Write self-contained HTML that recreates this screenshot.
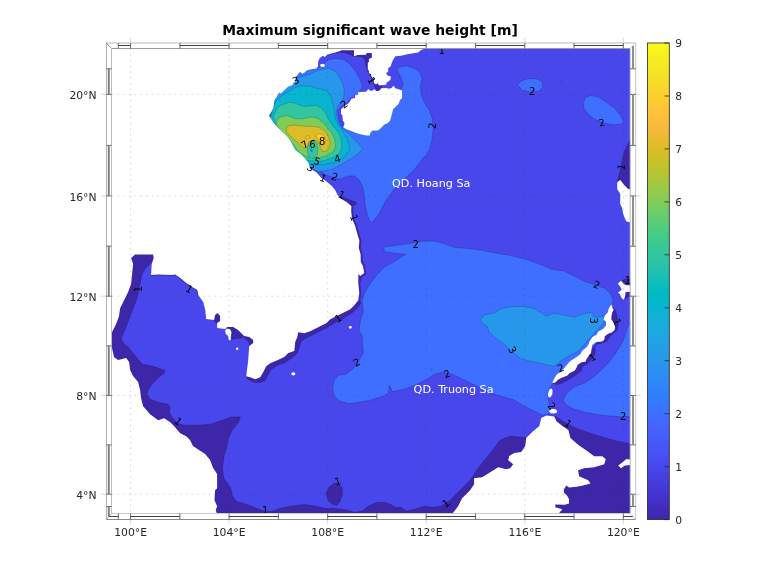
<!DOCTYPE html><html><head><meta charset="utf-8"><title>Maximum significant wave height</title>
<style>html,body{margin:0;padding:0;background:#fff}body{width:778px;height:583px;overflow:hidden}svg{display:block}text{font-family:"DejaVu Sans","Liberation Sans",sans-serif}</style></head><body>
<svg width="778" height="583" viewBox="0 0 778 583">
<defs><clipPath id="fr"><rect x="111.5" y="48.4" width="518.7" height="465.1"/></clipPath>
<linearGradient id="cb" x1="0" y1="1" x2="0" y2="0"><stop offset="0.0000" stop-color="rgb(62,38,168)"/><stop offset="0.0159" stop-color="rgb(64,42,180)"/><stop offset="0.0317" stop-color="rgb(66,46,192)"/><stop offset="0.0476" stop-color="rgb(67,50,203)"/><stop offset="0.0635" stop-color="rgb(69,55,213)"/><stop offset="0.0794" stop-color="rgb(70,60,222)"/><stop offset="0.0952" stop-color="rgb(71,65,229)"/><stop offset="0.1111" stop-color="rgb(71,71,235)"/><stop offset="0.1270" stop-color="rgb(72,77,240)"/><stop offset="0.1429" stop-color="rgb(72,82,244)"/><stop offset="0.1587" stop-color="rgb(71,88,248)"/><stop offset="0.1746" stop-color="rgb(70,94,251)"/><stop offset="0.1905" stop-color="rgb(69,99,253)"/><stop offset="0.2063" stop-color="rgb(66,105,254)"/><stop offset="0.2222" stop-color="rgb(62,111,255)"/><stop offset="0.2381" stop-color="rgb(56,117,254)"/><stop offset="0.2540" stop-color="rgb(50,124,252)"/><stop offset="0.2698" stop-color="rgb(47,129,250)"/><stop offset="0.2857" stop-color="rgb(46,135,247)"/><stop offset="0.3016" stop-color="rgb(45,140,243)"/><stop offset="0.3175" stop-color="rgb(43,145,239)"/><stop offset="0.3333" stop-color="rgb(39,151,235)"/><stop offset="0.3492" stop-color="rgb(37,155,232)"/><stop offset="0.3651" stop-color="rgb(35,160,229)"/><stop offset="0.3810" stop-color="rgb(32,165,227)"/><stop offset="0.3968" stop-color="rgb(28,169,223)"/><stop offset="0.4127" stop-color="rgb(24,173,219)"/><stop offset="0.4286" stop-color="rgb(18,177,214)"/><stop offset="0.4444" stop-color="rgb(8,181,208)"/><stop offset="0.4603" stop-color="rgb(1,184,202)"/><stop offset="0.4762" stop-color="rgb(2,186,195)"/><stop offset="0.4921" stop-color="rgb(11,189,189)"/><stop offset="0.5079" stop-color="rgb(25,191,182)"/><stop offset="0.5238" stop-color="rgb(36,193,174)"/><stop offset="0.5397" stop-color="rgb(44,196,167)"/><stop offset="0.5556" stop-color="rgb(49,198,159)"/><stop offset="0.5714" stop-color="rgb(55,200,151)"/><stop offset="0.5873" stop-color="rgb(63,202,142)"/><stop offset="0.6032" stop-color="rgb(74,203,132)"/><stop offset="0.6190" stop-color="rgb(87,204,122)"/><stop offset="0.6349" stop-color="rgb(100,205,111)"/><stop offset="0.6508" stop-color="rgb(114,205,100)"/><stop offset="0.6667" stop-color="rgb(129,204,89)"/><stop offset="0.6825" stop-color="rgb(143,203,78)"/><stop offset="0.6984" stop-color="rgb(157,201,67)"/><stop offset="0.7143" stop-color="rgb(171,199,57)"/><stop offset="0.7302" stop-color="rgb(185,196,49)"/><stop offset="0.7460" stop-color="rgb(197,194,42)"/><stop offset="0.7619" stop-color="rgb(209,191,39)"/><stop offset="0.7778" stop-color="rgb(220,189,41)"/><stop offset="0.7937" stop-color="rgb(230,187,45)"/><stop offset="0.8095" stop-color="rgb(240,186,54)"/><stop offset="0.8254" stop-color="rgb(248,186,61)"/><stop offset="0.8413" stop-color="rgb(254,190,60)"/><stop offset="0.8571" stop-color="rgb(254,195,56)"/><stop offset="0.8730" stop-color="rgb(254,201,52)"/><stop offset="0.8889" stop-color="rgb(252,207,48)"/><stop offset="0.9048" stop-color="rgb(250,214,45)"/><stop offset="0.9206" stop-color="rgb(247,220,42)"/><stop offset="0.9365" stop-color="rgb(245,227,39)"/><stop offset="0.9524" stop-color="rgb(245,233,36)"/><stop offset="0.9683" stop-color="rgb(246,239,32)"/><stop offset="0.9841" stop-color="rgb(247,245,27)"/><stop offset="1.0000" stop-color="rgb(249,251,21)"/></linearGradient></defs>
<rect width="778" height="583" fill="#fff"/>
<g clip-path="url(#fr)">
<rect x="111.5" y="48.4" width="518.7" height="465.1" fill="rgb(71,71,235)"/>
<polygon fill="rgb(62,38,168)" stroke="#000" stroke-opacity="0.35" stroke-width="0.5" stroke-linejoin="round" points="622.2,280.3 626.6,278.8 632.0,278.8 632.0,294.5 627.8,297.0 625.0,298.9 624.0,292.0 623.0,284.0"/>
<polygon fill="rgb(62,38,168)" stroke="#000" stroke-opacity="0.35" stroke-width="0.5" stroke-linejoin="round" points="330.0,54.5 335.2,52.7 341.1,52.3 343.9,52.7 350.1,54.4 353.6,56.5 357.8,56.2 361.3,56.8 364.0,58.2 365.4,61.4 365.8,64.8 366.8,69.0 368.5,73.2 370.3,75.9 371.7,78.7 373.6,83.4 375.3,86.9 376.4,90.7 379.2,91.2 381.5,88.5 382.0,85.0 378.0,82.0 372.0,70.0 376.0,52.0 352.0,47.0 330.0,47.0"/>
<polygon fill="rgb(62,38,168)" stroke="#000" stroke-opacity="0.35" stroke-width="0.5" stroke-linejoin="round" points="338.5,196.5 340.5,196.2 346.0,198.5 355.5,202.0 356.5,204.0 351.5,206.8 347.0,203.0 342.0,200.0"/>
<polygon fill="rgb(62,38,168)" stroke="#000" stroke-opacity="0.35" stroke-width="0.5" stroke-linejoin="round" points="361.2,302.5 357.2,308.5 351.2,313.5 343.2,318.5 335.2,322.6 327.2,327.6 319.1,331.6 311.1,335.6 305.2,338.4 301.2,341.4 299.2,347.4 297.2,353.4 291.2,358.4 285.2,362.5 277.1,365.5 271.1,369.5 268.1,374.5 265.1,380.5 260.1,382.5 254.1,382.5 250.1,380.5 247.1,378.5 246.0,374.0 255.0,372.0 262.0,366.0 275.0,358.0 290.0,348.0 293.0,335.0 305.0,328.0 330.0,316.0 350.0,305.0 356.0,298.0"/>
<polygon fill="rgb(62,38,168)" stroke="#000" stroke-opacity="0.35" stroke-width="0.5" stroke-linejoin="round" points="226.3,326.8 233.5,326.8 238.5,331.5 243.6,336.4 241.0,338.2 236.0,338.6 231.5,339.4 232.0,333.0 230.5,329.0"/>
<polygon fill="rgb(62,38,168)" stroke="#000" stroke-opacity="0.35" stroke-width="0.5" stroke-linejoin="round" points="214.5,316.0 217.5,312.5 220.6,316.0 220.5,321.5 217.0,324.0 213.8,320.5"/>
<polygon fill="rgb(62,38,168)" stroke="#000" stroke-opacity="0.35" stroke-width="0.5" stroke-linejoin="round" points="244.0,335.0 246.4,335.6 250.0,336.6 254.0,339.7 254.0,341.8 249.5,346.8 248.8,341.5 246.0,339.8 244.0,338.0"/>
<polygon fill="rgb(62,38,168)" stroke="#000" stroke-opacity="0.35" stroke-width="0.5" stroke-linejoin="round" points="155.0,252.0 153.0,262.0 150.1,264.1 146.1,267.1 142.1,274.1 140.1,284.1 137.1,298.2 133.1,308.2 130.1,316.2 127.1,324.2 123.1,334.2 121.1,338.3 124.1,344.3 127.1,346.0 132.1,352.0 137.1,358.0 142.1,364.1 152.1,366.1 164.2,370.1 165.2,372.1 158.2,378.1 152.1,384.1 148.1,390.1 147.1,394.1 150.1,399.2 158.2,402.2 168.2,404.2 170.2,408.2 169.2,412.2 172.2,417.2 177.2,423.2 184.2,425.2 196.3,425.2 210.3,424.2 222.3,420.2 230.3,417.2 240.4,416.8 238.4,422.2 232.3,430.2 228.3,438.3 227.1,446.1 224.1,456.1 222.5,468.1 223.7,478.2 228.1,484.2 231.1,489.2 232.5,496.2 236.1,501.2 246.2,504.2 256.2,508.2 264.2,511.2 272.2,511.2 280.3,508.2 290.3,506.2 304.3,504.6 316.4,506.2 326.4,508.5 332.0,508.2 346.1,509.8 354.1,512.2 362.1,511.2 368.1,506.2 376.1,502.6 384.2,502.2 390.2,504.2 396.2,507.6 401.2,507.2 406.2,511.2 414.2,509.2 424.3,506.2 432.3,507.2 440.3,506.4 450.1,500.3 460.1,490.2 470.1,480.2 478.1,468.2 486.1,458.2 494.2,448.1 500.2,440.1 510.2,436.1 520.2,437.1 526.2,438.1 535.0,445.0 520.0,470.0 480.0,490.0 458.0,518.0 212.0,518.0 205.0,470.0 170.0,440.0 135.0,410.0 115.0,380.0 105.0,350.0 105.0,330.0 125.0,280.0 128.0,250.0"/>
<polygon fill="rgb(62,38,168)" stroke="#000" stroke-opacity="0.35" stroke-width="0.5" stroke-linejoin="round" points="326.0,493.2 329.0,487.2 334.0,483.2 339.0,483.8 342.1,488.2 342.5,494.2 340.1,501.2 337.0,505.2 332.0,504.2 328.0,500.2"/>
<polygon fill="rgb(62,38,168)" stroke="#000" stroke-opacity="0.35" stroke-width="0.5" stroke-linejoin="round" points="548.0,417.0 555.1,416.1 564.1,422.1 576.1,428.2 590.2,433.2 606.2,438.2 618.2,441.2 632.0,444.0 632.0,518.0 550.0,518.0"/>
<polygon fill="rgb(62,38,168)" stroke="#000" stroke-opacity="0.35" stroke-width="0.5" stroke-linejoin="round" points="612.0,306.0 615.4,310.1 618.4,322.1 617.4,330.1 610.4,336.1 607.0,341.0 603.6,342.8 597.0,344.3 594.7,346.6 595.5,350.7 594.7,354.8 590.6,360.8 587.1,364.0 582.4,366.5 581.6,370.6 577.5,374.0 569.8,379.0 562.4,383.1 556.7,384.7 553.0,383.0 560.0,374.0 580.0,356.0 600.0,334.0 610.0,315.0"/>
<polygon fill="rgb(62,38,168)" stroke="#000" stroke-opacity="0.35" stroke-width="0.5" stroke-linejoin="round" points="632.0,138.0 630.5,139.0 627.0,146.0 624.4,151.3 622.6,158.0 621.2,166.0 619.2,174.1 617.0,182.0 620.0,190.0 632.0,190.0"/>
<polygon fill="rgb(62,111,255)" stroke="#000" stroke-opacity="0.35" stroke-width="0.5" stroke-linejoin="round" points="315.0,66.0 317.4,67.7 320.1,67.1 324.8,63.0 328.1,59.7 336.1,58.4 344.2,59.7 349.5,63.7 354.9,70.4 358.9,77.1 361.6,83.8 362.2,87.8 358.9,91.8 354.9,96.5 351.2,100.0 348.1,101.8 340.9,106.3 338.3,110.4 338.0,115.6 339.3,120.7 341.4,125.4 343.4,127.4 350.0,120.0 380.0,110.0 398.0,95.0 401.2,90.1 403.2,83.1 400.2,76.1 397.1,70.1 399.2,67.1 406.2,65.7 414.2,68.1 420.2,73.1 422.2,79.1 420.2,86.1 421.2,94.1 424.2,102.2 429.2,110.2 432.2,118.2 433.2,128.2 432.2,138.3 430.2,147.0 426.5,155.0 422.9,158.0 414.9,168.7 404.2,179.4 393.5,190.1 385.5,200.8 378.8,214.2 372.1,222.6 369.4,220.2 366.9,213.5 365.2,205.2 364.4,195.1 362.7,186.8 359.3,180.1 354.3,175.9 347.6,175.9 340.1,179.3 334.3,177.6 325.0,175.0 300.0,150.0 280.0,120.0 290.0,90.0 296.0,72.0 312.0,64.0 316.0,63.5"/>
<polygon fill="rgb(62,111,255)" stroke="#000" stroke-opacity="0.35" stroke-width="0.5" stroke-linejoin="round" points="384.1,246.8 393.5,245.7 406.8,244.1 420.2,241.4 433.6,240.9 444.3,243.6 455.0,247.6 468.3,248.4 481.7,250.3 495.1,252.9 511.1,255.6 527.2,259.6 537.9,263.6 547.8,267.6 550.1,269.0 564.1,271.0 576.1,277.0 586.2,282.0 596.2,285.1 604.2,288.1 610.2,293.1 613.2,300.1 612.2,305.1 611.5,312.0 611.0,322.0 607.0,332.0 600.0,339.0 589.0,352.0 577.0,364.0 562.0,377.0 553.0,383.0 549.0,390.0 548.0,398.0 550.3,409.0 548.3,414.0 542.3,415.0 534.3,411.0 522.2,405.0 514.2,400.0 503.8,397.0 490.4,392.9 479.7,387.6 469.0,382.2 458.3,376.9 450.3,373.4 442.3,372.4 434.3,374.2 426.3,379.6 415.6,384.9 404.9,388.9 392.6,391.6 389.4,384.9 388.3,393.7 380.8,397.0 370.1,400.2 359.4,402.3 348.7,403.6 339.4,401.0 334.0,395.6 332.7,388.9 334.0,380.9 338.0,375.6 346.0,374.2 352.7,368.9 358.1,362.2 363.4,352.8 362.6,343.5 362.1,335.5 358.9,330.1 360.7,319.4 363.4,311.4 362.1,300.7 364.5,293.0 370.4,283.2 378.4,273.1 385.8,266.1 393.5,262.3 405.5,254.3 393.5,252.9 384.1,251.6"/>
<polygon fill="rgb(62,111,255)" stroke="#000" stroke-opacity="0.35" stroke-width="0.5" stroke-linejoin="round" points="517.7,85.1 521.1,81.1 528.1,78.7 537.1,78.7 542.2,82.1 542.8,87.1 539.2,91.1 530.1,92.1 522.1,90.1"/>
<polygon fill="rgb(62,111,255)" stroke="#000" stroke-opacity="0.35" stroke-width="0.5" stroke-linejoin="round" points="583.3,103.2 585.3,98.1 590.3,95.5 598.3,97.1 606.3,102.2 614.4,108.2 620.4,115.2 623.4,121.2 621.4,124.2 612.3,124.8 604.3,123.2 594.3,119.2 588.3,114.2 584.3,109.2"/>
<polygon fill="rgb(62,111,255)" stroke="#000" stroke-opacity="0.35" stroke-width="0.5" stroke-linejoin="round" points="632.0,416.5 618.2,416.5 606.2,415.7 594.2,414.1 584.1,412.1 574.1,409.1 566.1,405.1 563.1,400.5 566.1,394.0 574.3,386.8 584.3,383.2 592.3,378.0 600.3,371.0 608.4,363.0 614.4,355.0 621.0,345.0 624.5,337.0 627.0,329.0 630.3,322.0 632.0,321.0"/>
<polygon fill="rgb(62,111,255)" stroke="#000" stroke-opacity="0.35" stroke-width="0.5" stroke-linejoin="round" points="557.2,81.5 558.5,80.6 560.8,81.3 561.2,82.6 559.0,82.8"/>
<polygon fill="rgb(62,111,255)" stroke="#000" stroke-opacity="0.35" stroke-width="0.5" stroke-linejoin="round" points="430.0,369.7 431.1,368.8 432.3,369.7 431.1,370.7"/>
<polygon fill="rgb(39,151,235)" stroke="#000" stroke-opacity="0.35" stroke-width="0.5" stroke-linejoin="round" points="294.7,79.1 301.4,76.4 309.4,74.4 316.1,71.1 322.8,69.1 329.5,68.4 334.8,71.1 338.8,75.7 342.2,82.4 344.2,89.1 344.0,95.0 342.9,99.1 339.8,103.2 337.3,107.3 336.2,112.5 337.3,118.7 339.8,124.8 342.9,129.0 348.1,133.1 353.2,138.2 358.4,143.4 362.5,148.5 358.5,153.4 350.2,159.2 340.1,165.1 330.1,170.1 318.4,171.7 310.0,167.6 300.0,160.0 285.0,140.0 270.0,120.0 275.0,95.0"/>
<polygon fill="rgb(39,151,235)" stroke="#000" stroke-opacity="0.35" stroke-width="0.5" stroke-linejoin="round" points="480.0,320.1 484.0,315.1 494.1,313.1 500.1,309.0 510.1,306.6 522.1,306.4 532.2,308.0 540.2,312.1 546.2,316.1 554.2,313.1 564.2,315.1 574.3,317.1 582.3,314.1 590.3,312.6 592.4,312.4 593.7,316.6 597.4,317.4 603.1,315.7 604.5,320.0 600.7,327.3 596.6,330.5 592.4,335.5 588.0,340.0 583.5,345.5 578.5,351.0 568.3,356.2 560.2,361.2 554.2,366.2 548.2,365.2 540.2,363.2 530.2,361.2 520.1,358.2 513.1,352.2 506.1,346.1 500.1,341.1 494.1,337.1 489.0,332.1 487.0,326.1 483.0,324.1"/>
<polygon fill="rgb(8,181,208)" stroke="#000" stroke-opacity="0.35" stroke-width="0.5" stroke-linejoin="round" points="274.5,104.0 275.2,102.7 278.4,98.6 283.4,94.4 289.1,91.2 294.9,87.5 300.7,85.8 306.4,85.8 311.3,86.2 316.3,88.3 321.4,89.1 326.8,91.1 330.1,94.5 332.1,99.8 333.5,106.5 334.2,110.4 334.7,115.6 336.2,120.7 339.8,126.9 344.0,133.1 347.6,139.2 349.3,145.0 349.3,150.0 345.1,156.7 336.8,161.7 326.8,164.2 316.7,165.1 306.7,163.4 300.0,158.0 285.0,138.0 270.0,118.0"/>
<polygon fill="rgb(49,198,159)" stroke="#000" stroke-opacity="0.35" stroke-width="0.5" stroke-linejoin="round" points="273.0,116.0 274.3,114.2 276.0,110.1 278.4,106.4 283.4,104.3 290.0,102.3 294.9,103.1 299.8,105.1 304.8,106.4 309.7,106.0 315.1,105.3 320.3,107.3 324.4,111.5 327.5,116.6 330.6,122.8 334.7,127.9 338.8,133.1 340.9,138.2 341.6,143.4 341.8,146.7 340.1,152.5 333.4,157.5 323.4,160.9 311.7,160.9 302.5,159.2 298.0,154.0 293.0,148.0 289.0,140.0 282.0,132.5 276.0,126.0"/>
<polygon fill="rgb(129,204,89)" stroke="#000" stroke-opacity="0.35" stroke-width="0.5" stroke-linejoin="round" points="276.5,121.5 279.3,117.5 283.4,116.2 286.7,115.4 290.0,116.7 294.9,118.7 299.8,119.1 304.8,118.3 310.0,117.3 314.1,117.3 319.3,119.2 323.4,122.8 327.5,127.9 331.6,133.1 334.2,138.2 335.4,143.4 335.6,146.0 333.4,151.7 325.1,155.9 316.7,158.4 306.7,156.7 301.0,153.6 298.0,150.5 294.9,146.4 291.8,142.3 288.7,138.7 284.6,134.6 280.5,130.0 276.9,124.8"/>
<polygon fill="rgb(220,189,41)" stroke="#000" stroke-opacity="0.35" stroke-width="0.5" stroke-linejoin="round" points="286.1,128.9 288.7,125.8 293.8,125.0 300.0,125.8 307.2,126.3 314.4,126.6 319.3,127.4 323.4,130.0 327.0,133.6 329.0,138.2 330.1,142.3 329.5,146.4 327.5,150.0 324.4,151.6 321.8,150.6 320.3,147.5 319.4,144.0 317.5,141.3 315.4,140.2 312.4,140.4 309.3,141.8 308.2,144.4 307.2,146.9 304.6,148.0 301.6,146.4 297.9,142.8 293.8,139.2 289.7,135.6 286.6,132.0"/>
<polygon fill="rgb(49,198,159)" stroke="#000" stroke-opacity="0.35" stroke-width="0.5" stroke-linejoin="round" points="309.5,143.0 312.0,141.6 315.0,141.6 317.0,144.0 317.8,150.0 317.0,156.0 313.0,158.5 309.0,157.5 307.3,152.0 307.8,147.0"/>
<polygon fill="rgb(39,151,235)" stroke="#000" stroke-opacity="0.35" stroke-width="0.5" stroke-linejoin="round" points="311.5,148.4 312.5,150.0 311.8,152.2 310.7,151.0 310.6,149.3"/>
<polygon fill="rgb(252,207,48)" stroke="#000" stroke-opacity="0.35" stroke-width="0.5" stroke-linejoin="round" points="315.7,135.1 319.3,133.6 322.3,134.6 324.4,137.2 325.4,141.3 324.4,144.4 322.3,145.4 320.3,143.4 318.7,139.2 316.7,137.2"/>
<polygon fill="rgb(252,207,48)" stroke="#000" stroke-opacity="0.35" stroke-width="0.5" stroke-linejoin="round" points="305.5,136.5 307.5,135.5 309.5,136.2 309.5,137.6 307.3,138.4 305.6,137.8"/>
<polyline fill="none" stroke="rgb(62,38,168)" stroke-width="4.0" stroke-linejoin="round" points="351.4,206.3 351.2,211.0 352.0,218.4 355.1,225.8 357.5,234.4 359.4,240.6 358.8,248.0 360.6,254.2 360.8,262.0 363.0,266.0 364.3,273.1 360.3,276.1 358.3,283.2 359.3,293.2 358.3,300.2"/>
<polyline fill="none" stroke="rgb(62,38,168)" stroke-width="1.6" stroke-linejoin="round" points="151.1,275.1 158.2,274.5 172.2,275.1 175.2,274.5 180.2,278.1 186.2,283.1 192.2,287.1 197.3,290.1 198.3,295.1"/>
<polyline fill="none" stroke="rgb(71,71,235)" stroke-width="3.0" stroke-linejoin="round" points="355.2,95.3 354.9,98.0 351.4,98.7 348.1,103.7 344.0,106.3 340.9,109.4 340.9,113.5 342.4,115.6 342.9,120.7 344.5,122.8 344.0,125.9"/>
<polygon fill="#fff" points="425.0,48.4 420.7,50.2 418.3,52.6 408.4,53.9 401.0,55.7 395.4,56.3 393.0,60.0 391.3,64.0 391.0,66.1 388.2,68.2 388.2,71.6 386.1,73.4 387.5,75.5 391.0,76.5 390.3,80.0 386.5,82.8 386.1,84.8 379.2,85.5 377.4,83.1 376.0,84.8 374.0,82.8 373.4,78.0 371.7,77.3 371.0,73.9 368.9,73.2 368.9,70.4 367.8,69.7 367.8,62.8 368.9,62.1 368.9,58.9 372.0,57.5 371.7,53.0 366.5,53.0 366.1,54.8 357.8,55.1 354.0,56.2 354.0,50.3 341.1,50.3 340.2,51.0 333.5,53.0 327.5,54.4 324.8,57.0 322.8,55.7 319.4,58.4 318.1,61.7 318.1,66.4 316.1,68.4 312.1,69.1 306.7,70.4 304.7,72.4 302.1,73.7 300.1,71.7 297.4,75.1 294.7,78.4 295.7,78.0 294.9,81.7 293.3,82.9 292.4,85.0 288.3,86.6 284.2,90.3 280.9,93.6 279.3,92.4 277.6,95.3 274.3,100.2 273.5,107.6 271.9,110.9 269.0,115.8 274.3,123.8 278.4,127.9 282.5,132.0 287.7,137.2 290.7,141.3 292.8,145.4 295.4,150.2 300.8,154.2 304.8,158.2 308.8,163.5 310.0,168.4 316.7,172.6 320.9,177.6 325.9,180.9 331.8,185.9 335.1,190.1 337.6,195.1 341.8,199.3 347.0,202.3 351.4,206.3 351.2,211.0 352.0,218.4 355.1,225.8 357.5,234.4 359.4,240.6 358.8,248.0 360.6,254.2 360.8,262.0 363.0,266.0 364.3,273.1 360.3,276.1 358.3,274.1 358.3,283.2 359.3,293.2 358.3,300.2 354.3,305.2 350.3,309.2 344.3,312.2 338.3,315.2 330.3,319.2 326.3,323.3 318.2,327.3 310.2,331.3 304.2,333.3 298.2,332.3 297.2,337.3 295.2,341.9 294.3,351.1 288.3,353.1 284.3,357.1 277.3,360.2 270.2,363.2 266.2,366.2 263.2,372.2 260.2,377.2 255.2,379.2 250.2,377.2 246.2,376.2 247.2,368.2 248.2,360.2 249.2,346.1 253.2,343.1 253.2,340.1 249.2,337.1 244.2,336.1 238.2,330.1 233.1,327.1 227.1,327.1 225.1,329.1 217.1,328.1 217.1,323.1 220.1,321.1 220.1,316.0 217.5,313.0 215.1,315.0 214.1,320.1 206.1,319.0 205.3,310.2 203.3,302.2 198.3,295.1 197.3,290.1 192.2,287.1 186.2,283.1 180.2,278.1 175.2,274.5 172.2,275.1 158.2,274.5 151.1,275.1 151.7,264.1 153.7,258.0 153.1,254.4 135.1,254.4 131.1,258.0 133.1,264.1 132.1,274.1 131.1,284.1 128.1,292.1 124.1,300.2 120.1,308.2 119.0,316.2 116.0,324.2 112.0,332.2 111.4,340.0 112.0,348.0 114.0,357.0 118.0,360.1 126.1,358.0 129.1,362.1 130.1,370.1 133.1,376.1 138.1,382.1 140.1,390.1 141.1,398.2 143.1,406.2 150.1,414.2 158.2,420.2 164.2,418.2 170.2,422.2 174.2,426.2 180.2,433.2 186.2,436.3 190.0,440.1 193.0,446.1 199.0,450.1 205.1,454.1 210.1,460.1 213.1,468.1 217.1,474.1 217.1,488.2 215.1,490.2 214.5,500.2 217.1,506.2 215.7,510.2 217.1,514.0 105.0,514.0 105.0,45.0 425.0,45.0"/>
<polygon fill="#fff" points="341.0,109.4 344.0,106.3 348.1,103.7 350.0,101.5 351.4,98.7 354.9,98.0 355.2,95.3 357.6,94.6 358.3,92.1 366.0,91.8 368.4,89.0 370.1,90.7 372.2,90.7 374.3,89.3 376.4,91.1 379.2,90.7 381.3,88.3 386.1,88.0 388.9,88.7 391.7,88.0 393.1,85.9 394.4,86.6 395.1,88.3 401.4,90.0 402.1,91.8 402.1,98.0 400.0,100.1 398.6,104.0 396.1,106.2 393.1,109.2 391.1,117.2 390.0,120.7 388.2,122.8 384.1,124.8 381.0,127.9 377.9,130.5 372.8,130.5 370.7,132.0 369.7,135.6 366.1,135.6 361.4,134.6 356.3,133.1 351.2,131.0 346.0,129.0 342.9,126.9 344.0,125.9 344.5,122.8 342.9,120.7 342.4,115.6 340.9,113.5"/>
<polygon fill="#fff" points="617.2,182.1 620.2,180.1 624.2,185.1 628.2,189.1 632.0,189.1 632.0,223.2 626.2,221.2 623.2,214.2 622.2,208.2 620.2,204.1 620.2,194.1 617.2,189.1"/>
<polygon fill="#fff" points="611.0,305.0 612.2,305.5 612.6,308.3 613.8,309.6 612.2,312.4 611.4,316.6 611.4,319.8 613.8,322.3 615.1,327.3 614.7,329.7 612.2,332.2 608.1,333.8 604.8,336.3 604.4,339.6 602.3,341.6 596.6,342.1 595.3,342.5 592.1,344.9 591.6,349.0 590.8,353.6 586.7,358.5 585.5,361.8 581.4,362.2 577.7,364.7 576.4,368.0 574.8,370.4 569.8,372.9 567.4,375.4 562.4,377.4 558.3,379.5 555.0,382.8 552.2,382.8 554.2,378.7 556.7,374.5 561.6,371.3 565.7,366.3 569.8,361.4 573.1,359.3 577.3,356.4 580.5,354.0 582.2,350.7 586.3,347.4 588.8,344.1 589.2,342.0 592.4,337.1 596.6,334.7 598.2,331.4 603.1,328.9 606.0,325.6 606.0,321.5 603.5,319.8 604.8,315.7 607.7,312.4 608.9,308.3"/>
<polygon fill="#fff" points="548.3,392.8 549.6,389.3 551.3,388.4 552.6,390.0 552.3,394.5 550.3,397.4 548.6,397.2 548.0,395.0"/>
<polygon fill="#fff" points="549.0,411.3 550.2,409.6 552.5,408.9 555.5,409.3 557.2,411.0 556.5,412.9 553.5,413.6 550.5,413.2"/>
<polygon fill="#fff" points="617.9,283.4 621.0,280.7 623.5,283.4 625.3,285.0 632.0,285.6 632.0,291.8 625.6,292.1 625.0,297.0 623.5,300.1 621.0,297.0 619.8,293.9 617.9,292.4 620.4,291.1 621.6,289.3 620.1,286.5"/>
<polygon fill="#fff" points="452.1,514.0 458.1,506.3 462.1,498.3 470.1,490.2 474.1,484.2 474.1,478.2 482.1,477.2 490.2,472.2 498.2,467.2 506.2,469.2 510.2,468.2 513.2,464.2 508.2,460.2 509.2,456.1 514.2,453.1 521.2,452.1 525.2,446.1 526.2,438.1 532.3,432.1 539.3,426.1 541.3,418.0 546.3,415.6 554.3,416.4 556.3,421.1 562.3,426.1 568.4,430.1 570.4,438.1 578.4,445.1 586.1,450.2 594.2,456.2 602.2,456.2 605.8,459.2 604.2,464.2 594.2,467.3 584.1,468.3 578.1,470.3 579.1,476.3 588.2,480.3 590.5,483.5 583.0,485.4 576.7,486.7 569.0,487.4 566.4,485.4 563.9,489.3 563.9,492.5 567.1,495.7 569.0,499.0 569.0,503.5 565.0,504.7 555.3,504.5 555.3,507.3 562.3,509.3 558.3,514.0"/>
<polygon fill="#fff" points="618.2,465.6 622.3,462.4 626.4,459.0 631.0,459.8 631.0,464.9 625.0,465.6 620.9,468.3"/>
<polygon fill="#fff" points="225.0,330.5 227.0,328.8 230.0,329.2 231.5,332.0 230.8,336.0 230.8,340.0 228.8,340.5 228.2,336.0 225.8,334.0"/>
<ellipse cx="350.3" cy="327.3" rx="1.4" ry="1.4" fill="#fff"/>
<ellipse cx="237.2" cy="348.8" rx="1.2" ry="1.2" fill="#fff"/>
<ellipse cx="293.3" cy="373.8" rx="2.0" ry="1.6" fill="#fff"/>
<ellipse cx="322.5" cy="65.3" rx="2.4" ry="1.6" fill="#fff"/>
<g font-size="10" fill="#000" text-anchor="middle">
<text x="295.8" y="80.4" transform="rotate(-25 295.8 80.4)" dy="3.6">3</text>
<text x="371.6" y="80.4" transform="rotate(60 371.6 80.4)" dy="3.6">1</text>
<text x="344.0" y="104.3" transform="rotate(-35 344.0 104.3)" dy="3.6">2</text>
<text x="304.6" y="144.4" transform="rotate(-35 304.6 144.4)" dy="3.6">7</text>
<text x="312.4" y="144.4" transform="rotate(0 312.4 144.4)" dy="3.6">6</text>
<text x="322.1" y="141.3" transform="rotate(0 322.1 141.3)" dy="3.6">8</text>
<text x="317.0" y="161.1" transform="rotate(20 317.0 161.1)" dy="3.6">5</text>
<text x="337.5" y="158.6" transform="rotate(-15 337.5 158.6)" dy="3.6">4</text>
<text x="310.8" y="167.7" transform="rotate(40 310.8 167.7)" dy="3.6">3</text>
<text x="323.1" y="178.0" transform="rotate(25 323.1 178.0)" dy="3.6">1</text>
<text x="334.7" y="176.7" transform="rotate(20 334.7 176.7)" dy="3.6">2</text>
<text x="341.6" y="194.8" transform="rotate(25 341.6 194.8)" dy="3.6">1</text>
<text x="354.3" y="217.7" transform="rotate(70 354.3 217.7)" dy="3.6">1</text>
<text x="441.7" y="50.2" transform="rotate(0 441.7 50.2)" dy="3.6">1</text>
<text x="432.2" y="125.8" transform="rotate(-85 432.2 125.8)" dy="3.6">2</text>
<text x="532.1" y="91.7" transform="rotate(0 532.1 91.7)" dy="3.6">2</text>
<text x="601.7" y="122.6" transform="rotate(-10 601.7 122.6)" dy="3.6">2</text>
<text x="621.2" y="167.0" transform="rotate(-80 621.2 167.0)" dy="3.6">1</text>
<text x="415.7" y="244.1" transform="rotate(0 415.7 244.1)" dy="3.6">2</text>
<text x="338.3" y="318.2" transform="rotate(-30 338.3 318.2)" dy="3.6">1</text>
<text x="138.5" y="289.0" transform="rotate(-90 138.5 289.0)" dy="3.6">1</text>
<text x="189.2" y="289.0" transform="rotate(30 189.2 289.0)" dy="3.6">1</text>
<text x="178.2" y="421.2" transform="rotate(40 178.2 421.2)" dy="3.6">1</text>
<text x="265.2" y="510.2" transform="rotate(0 265.2 510.2)" dy="3.6">1</text>
<text x="337.6" y="481.2" transform="rotate(-15 337.6 481.2)" dy="3.6">1</text>
<text x="445.9" y="503.2" transform="rotate(-35 445.9 503.2)" dy="3.6">1</text>
<text x="356.7" y="362.2" transform="rotate(-30 356.7 362.2)" dy="3.6">2</text>
<text x="447.1" y="373.7" transform="rotate(-20 447.1 373.7)" dy="3.6">2</text>
<text x="512.5" y="350.0" transform="rotate(60 512.5 350.0)" dy="3.6">3</text>
<text x="593.7" y="320.6" transform="rotate(90 593.7 320.6)" dy="3.6">3</text>
<text x="560.8" y="368.0" transform="rotate(-20 560.8 368.0)" dy="3.6">2</text>
<text x="592.3" y="357.2" transform="rotate(-35 592.3 357.2)" dy="3.6">1</text>
<text x="617.2" y="321.9" transform="rotate(70 617.2 321.9)" dy="3.6">1</text>
<text x="596.8" y="284.8" transform="rotate(20 596.8 284.8)" dy="3.6">2</text>
<text x="627.9" y="279.9" transform="rotate(0 627.9 279.9)" dy="3.6">1</text>
<text x="623.2" y="416.5" transform="rotate(0 623.2 416.5)" dy="3.6">2</text>
<text x="568.1" y="423.7" transform="rotate(35 568.1 423.7)" dy="3.6">1</text>
<text x="551.7" y="406.1" transform="rotate(50 551.7 406.1)" dy="3.6">2</text>
</g>
</g>
<g font-size="11.2" fill="#fff">
<text x="392" y="186.6">QD. Hoang Sa</text>
<text x="413.6" y="392.9">QD. Truong Sa</text>
</g>
<g stroke="#3a3a22" stroke-opacity="0.25" stroke-width="1" stroke-dasharray="1.3 4.4" fill="none">
<line x1="130.6" y1="43.0" x2="130.6" y2="519.5"/>
<line x1="229.1" y1="43.0" x2="229.1" y2="519.5"/>
<line x1="327.7" y1="43.0" x2="327.7" y2="519.5"/>
<line x1="426.2" y1="43.0" x2="426.2" y2="519.5"/>
<line x1="524.8" y1="43.0" x2="524.8" y2="519.5"/>
<line x1="623.3" y1="43.0" x2="623.3" y2="519.5"/>
<line x1="106.3" y1="494.2" x2="635.7" y2="494.2"/>
<line x1="106.3" y1="395.5" x2="635.7" y2="395.5"/>
<line x1="106.3" y1="296.2" x2="635.7" y2="296.2"/>
<line x1="106.3" y1="195.9" x2="635.7" y2="195.9"/>
<line x1="106.3" y1="94.4" x2="635.7" y2="94.4"/>
</g>
<g stroke="#262626" stroke-opacity="0.25" stroke-width="0.7">
<line x1="130.6" y1="37.7" x2="130.6" y2="43.0"/>
<line x1="130.6" y1="519.5" x2="130.6" y2="524.3"/>
<line x1="229.1" y1="37.7" x2="229.1" y2="43.0"/>
<line x1="229.1" y1="519.5" x2="229.1" y2="524.3"/>
<line x1="327.7" y1="37.7" x2="327.7" y2="43.0"/>
<line x1="327.7" y1="519.5" x2="327.7" y2="524.3"/>
<line x1="426.2" y1="37.7" x2="426.2" y2="43.0"/>
<line x1="426.2" y1="519.5" x2="426.2" y2="524.3"/>
<line x1="524.8" y1="37.7" x2="524.8" y2="43.0"/>
<line x1="524.8" y1="519.5" x2="524.8" y2="524.3"/>
<line x1="623.3" y1="37.7" x2="623.3" y2="43.0"/>
<line x1="623.3" y1="519.5" x2="623.3" y2="524.3"/>
<line x1="100.8" y1="494.2" x2="106.3" y2="494.2"/>
<line x1="635.7" y1="494.2" x2="640.6" y2="494.2"/>
<line x1="100.8" y1="395.5" x2="106.3" y2="395.5"/>
<line x1="635.7" y1="395.5" x2="640.6" y2="395.5"/>
<line x1="100.8" y1="296.2" x2="106.3" y2="296.2"/>
<line x1="635.7" y1="296.2" x2="640.6" y2="296.2"/>
<line x1="100.8" y1="195.9" x2="106.3" y2="195.9"/>
<line x1="635.7" y1="195.9" x2="640.6" y2="195.9"/>
<line x1="100.8" y1="94.4" x2="106.3" y2="94.4"/>
<line x1="635.7" y1="94.4" x2="640.6" y2="94.4"/>
</g>
<g fill="none">
<line x1="106.3" y1="43.0" x2="635.7" y2="43.0" stroke="#dcdcdc" stroke-width="2.0"/>
<line x1="635.7" y1="43.0" x2="635.7" y2="519.5" stroke="#c4c4c4" stroke-width="1.0"/>
<line x1="106.3" y1="519.5" x2="635.7" y2="519.5" stroke="#8c8c8c" stroke-width="1.0"/>
<line x1="106.5" y1="43.0" x2="106.5" y2="519.5" stroke="#b4b4b4" stroke-width="1.0"/>
<line x1="111.5" y1="48.5" x2="630.2" y2="48.5" stroke="#9a9a9a" stroke-width="1.0"/>
<line x1="630.2" y1="48.4" x2="630.2" y2="513.5" stroke="#bcbcbc" stroke-width="1.0"/>
<line x1="111.5" y1="513.5" x2="630.2" y2="513.5" stroke="#cacaca" stroke-width="1.0"/>
<line x1="111.5" y1="48.4" x2="111.5" y2="513.5" stroke="#bcbcbc" stroke-width="1.0"/>
<line x1="106.3" y1="43.0" x2="111.5" y2="48.4" stroke="#777" stroke-width="0.8"/>
<line x1="635.7" y1="43.0" x2="630.2" y2="48.4" stroke="#ccc" stroke-width="0.8"/>
<line x1="106.3" y1="519.5" x2="111.5" y2="513.5" stroke="#888" stroke-width="0.8"/>
<line x1="635.7" y1="519.5" x2="630.2" y2="513.5" stroke="#ccc" stroke-width="0.8"/>
</g>
<g fill="none">
<line x1="118.3" y1="513.5" x2="118.3" y2="519.5" stroke="#5a5a5a" stroke-width="0.9"/>
<line x1="108.9" y1="516.5" x2="118.3" y2="516.5" stroke="#444" stroke-width="1.0"/>
<line x1="118.3" y1="43.0" x2="118.3" y2="48.4" stroke="#5a5a5a" stroke-width="0.9"/>
<line x1="130.6" y1="43.0" x2="130.6" y2="48.4" stroke="#5a5a5a" stroke-width="0.9"/>
<line x1="118.3" y1="45.5" x2="130.6" y2="45.5" stroke="#444" stroke-width="1.0"/>
<line x1="130.6" y1="513.5" x2="130.6" y2="519.5" stroke="#5a5a5a" stroke-width="0.9"/>
<line x1="179.9" y1="513.5" x2="179.9" y2="519.5" stroke="#5a5a5a" stroke-width="0.9"/>
<line x1="130.6" y1="516.5" x2="179.9" y2="516.5" stroke="#444" stroke-width="1.0"/>
<line x1="179.9" y1="43.0" x2="179.9" y2="48.4" stroke="#5a5a5a" stroke-width="0.9"/>
<line x1="229.1" y1="43.0" x2="229.1" y2="48.4" stroke="#5a5a5a" stroke-width="0.9"/>
<line x1="179.9" y1="45.5" x2="229.1" y2="45.5" stroke="#444" stroke-width="1.0"/>
<line x1="229.1" y1="513.5" x2="229.1" y2="519.5" stroke="#5a5a5a" stroke-width="0.9"/>
<line x1="278.4" y1="513.5" x2="278.4" y2="519.5" stroke="#5a5a5a" stroke-width="0.9"/>
<line x1="229.1" y1="516.5" x2="278.4" y2="516.5" stroke="#444" stroke-width="1.0"/>
<line x1="278.4" y1="43.0" x2="278.4" y2="48.4" stroke="#5a5a5a" stroke-width="0.9"/>
<line x1="327.7" y1="43.0" x2="327.7" y2="48.4" stroke="#5a5a5a" stroke-width="0.9"/>
<line x1="278.4" y1="45.5" x2="327.7" y2="45.5" stroke="#444" stroke-width="1.0"/>
<line x1="327.7" y1="513.5" x2="327.7" y2="519.5" stroke="#5a5a5a" stroke-width="0.9"/>
<line x1="376.9" y1="513.5" x2="376.9" y2="519.5" stroke="#5a5a5a" stroke-width="0.9"/>
<line x1="327.7" y1="516.5" x2="376.9" y2="516.5" stroke="#444" stroke-width="1.0"/>
<line x1="376.9" y1="43.0" x2="376.9" y2="48.4" stroke="#5a5a5a" stroke-width="0.9"/>
<line x1="426.2" y1="43.0" x2="426.2" y2="48.4" stroke="#5a5a5a" stroke-width="0.9"/>
<line x1="376.9" y1="45.5" x2="426.2" y2="45.5" stroke="#444" stroke-width="1.0"/>
<line x1="426.2" y1="513.5" x2="426.2" y2="519.5" stroke="#5a5a5a" stroke-width="0.9"/>
<line x1="475.5" y1="513.5" x2="475.5" y2="519.5" stroke="#5a5a5a" stroke-width="0.9"/>
<line x1="426.2" y1="516.5" x2="475.5" y2="516.5" stroke="#444" stroke-width="1.0"/>
<line x1="475.5" y1="43.0" x2="475.5" y2="48.4" stroke="#5a5a5a" stroke-width="0.9"/>
<line x1="524.8" y1="43.0" x2="524.8" y2="48.4" stroke="#5a5a5a" stroke-width="0.9"/>
<line x1="475.5" y1="45.5" x2="524.8" y2="45.5" stroke="#444" stroke-width="1.0"/>
<line x1="524.8" y1="513.5" x2="524.8" y2="519.5" stroke="#5a5a5a" stroke-width="0.9"/>
<line x1="574.0" y1="513.5" x2="574.0" y2="519.5" stroke="#5a5a5a" stroke-width="0.9"/>
<line x1="524.8" y1="516.5" x2="574.0" y2="516.5" stroke="#444" stroke-width="1.0"/>
<line x1="574.0" y1="43.0" x2="574.0" y2="48.4" stroke="#5a5a5a" stroke-width="0.9"/>
<line x1="623.3" y1="43.0" x2="623.3" y2="48.4" stroke="#5a5a5a" stroke-width="0.9"/>
<line x1="574.0" y1="45.5" x2="623.3" y2="45.5" stroke="#444" stroke-width="1.0"/>
<line x1="623.3" y1="513.5" x2="623.3" y2="519.5" stroke="#5a5a5a" stroke-width="0.9"/>
<line x1="623.3" y1="516.5" x2="632.8" y2="516.5" stroke="#444" stroke-width="1.0"/>
<line x1="630.2" y1="68.8" x2="635.7" y2="68.8" stroke="#5a5a5a" stroke-width="0.9"/>
<line x1="633.0" y1="46.1" x2="633.0" y2="68.8" stroke="#8a8a8a" stroke-width="1.9"/>
<line x1="106.3" y1="68.8" x2="111.5" y2="68.8" stroke="#5a5a5a" stroke-width="0.9"/>
<line x1="106.3" y1="94.4" x2="111.5" y2="94.4" stroke="#5a5a5a" stroke-width="0.9"/>
<line x1="108.8" y1="68.8" x2="108.8" y2="94.4" stroke="#7c7c7c" stroke-width="1.9"/>
<line x1="630.2" y1="94.4" x2="635.7" y2="94.4" stroke="#5a5a5a" stroke-width="0.9"/>
<line x1="630.2" y1="145.4" x2="635.7" y2="145.4" stroke="#5a5a5a" stroke-width="0.9"/>
<line x1="633.0" y1="94.4" x2="633.0" y2="145.4" stroke="#8a8a8a" stroke-width="1.9"/>
<line x1="106.3" y1="145.4" x2="111.5" y2="145.4" stroke="#5a5a5a" stroke-width="0.9"/>
<line x1="106.3" y1="195.9" x2="111.5" y2="195.9" stroke="#5a5a5a" stroke-width="0.9"/>
<line x1="108.8" y1="145.4" x2="108.8" y2="195.9" stroke="#7c7c7c" stroke-width="1.9"/>
<line x1="630.2" y1="195.9" x2="635.7" y2="195.9" stroke="#5a5a5a" stroke-width="0.9"/>
<line x1="630.2" y1="246.2" x2="635.7" y2="246.2" stroke="#5a5a5a" stroke-width="0.9"/>
<line x1="633.0" y1="195.9" x2="633.0" y2="246.2" stroke="#8a8a8a" stroke-width="1.9"/>
<line x1="106.3" y1="246.2" x2="111.5" y2="246.2" stroke="#5a5a5a" stroke-width="0.9"/>
<line x1="106.3" y1="296.2" x2="111.5" y2="296.2" stroke="#5a5a5a" stroke-width="0.9"/>
<line x1="108.8" y1="246.2" x2="108.8" y2="296.2" stroke="#7c7c7c" stroke-width="1.9"/>
<line x1="630.2" y1="296.2" x2="635.7" y2="296.2" stroke="#5a5a5a" stroke-width="0.9"/>
<line x1="630.2" y1="345.9" x2="635.7" y2="345.9" stroke="#5a5a5a" stroke-width="0.9"/>
<line x1="633.0" y1="296.2" x2="633.0" y2="345.9" stroke="#8a8a8a" stroke-width="1.9"/>
<line x1="106.3" y1="345.9" x2="111.5" y2="345.9" stroke="#5a5a5a" stroke-width="0.9"/>
<line x1="106.3" y1="395.5" x2="111.5" y2="395.5" stroke="#5a5a5a" stroke-width="0.9"/>
<line x1="108.8" y1="345.9" x2="108.8" y2="395.5" stroke="#7c7c7c" stroke-width="1.9"/>
<line x1="630.2" y1="395.5" x2="635.7" y2="395.5" stroke="#5a5a5a" stroke-width="0.9"/>
<line x1="630.2" y1="444.9" x2="635.7" y2="444.9" stroke="#5a5a5a" stroke-width="0.9"/>
<line x1="633.0" y1="395.5" x2="633.0" y2="444.9" stroke="#8a8a8a" stroke-width="1.9"/>
<line x1="106.3" y1="444.9" x2="111.5" y2="444.9" stroke="#5a5a5a" stroke-width="0.9"/>
<line x1="106.3" y1="494.2" x2="111.5" y2="494.2" stroke="#5a5a5a" stroke-width="0.9"/>
<line x1="108.8" y1="444.9" x2="108.8" y2="494.2" stroke="#7c7c7c" stroke-width="1.9"/>
<line x1="630.2" y1="494.2" x2="635.7" y2="494.2" stroke="#5a5a5a" stroke-width="0.9"/>
<line x1="630.2" y1="506.5" x2="635.7" y2="506.5" stroke="#5a5a5a" stroke-width="0.9"/>
<line x1="633.0" y1="494.2" x2="633.0" y2="506.5" stroke="#8a8a8a" stroke-width="1.9"/>
<line x1="106.3" y1="506.5" x2="111.5" y2="506.5" stroke="#5a5a5a" stroke-width="0.9"/>
<line x1="108.8" y1="506.5" x2="108.8" y2="516.0" stroke="#7c7c7c" stroke-width="1.9"/>
</g>
<g font-size="10.8" fill="#262626">
<text x="130.6" y="536" text-anchor="middle">100°E</text>
<text x="229.1" y="536" text-anchor="middle">104°E</text>
<text x="327.7" y="536" text-anchor="middle">108°E</text>
<text x="426.2" y="536" text-anchor="middle">112°E</text>
<text x="524.8" y="536" text-anchor="middle">116°E</text>
<text x="623.3" y="536" text-anchor="middle">120°E</text>
<text x="96.6" y="499.0" text-anchor="end">4°N</text>
<text x="96.6" y="400.3" text-anchor="end">8°N</text>
<text x="96.6" y="301.0" text-anchor="end">12°N</text>
<text x="96.6" y="200.7" text-anchor="end">16°N</text>
<text x="96.6" y="99.2" text-anchor="end">20°N</text>
</g>
<text x="370" y="34.8" font-size="14" font-weight="bold" text-anchor="middle" fill="#000" textLength="295.5" lengthAdjust="spacingAndGlyphs">Maximum significant wave height [m]</text>
<rect x="647.4" y="43.0" width="21.9" height="476.6" fill="url(#cb)"/>
<rect x="647.4" y="43.0" width="21.9" height="476.6" fill="none" stroke="#262626" stroke-width="0.8"/>
<g stroke="#262626" stroke-width="0.8">
<line x1="664.5" y1="519.6" x2="669.3" y2="519.6"/>
<line x1="664.5" y1="466.6" x2="669.3" y2="466.6"/>
<line x1="664.5" y1="413.7" x2="669.3" y2="413.7"/>
<line x1="664.5" y1="360.7" x2="669.3" y2="360.7"/>
<line x1="664.5" y1="307.8" x2="669.3" y2="307.8"/>
<line x1="664.5" y1="254.8" x2="669.3" y2="254.8"/>
<line x1="664.5" y1="201.9" x2="669.3" y2="201.9"/>
<line x1="664.5" y1="148.9" x2="669.3" y2="148.9"/>
<line x1="664.5" y1="96.0" x2="669.3" y2="96.0"/>
<line x1="664.5" y1="43.0" x2="669.3" y2="43.0"/>
</g><g font-size="10.67" fill="#262626">
<text x="675.3" y="523.5">0</text>
<text x="675.3" y="470.5">1</text>
<text x="675.3" y="417.6">2</text>
<text x="675.3" y="364.6">3</text>
<text x="675.3" y="311.7">4</text>
<text x="675.3" y="258.7">5</text>
<text x="675.3" y="205.8">6</text>
<text x="675.3" y="152.8">7</text>
<text x="675.3" y="99.9">8</text>
<text x="675.3" y="46.9">9</text>
</g>
</svg></body></html>
